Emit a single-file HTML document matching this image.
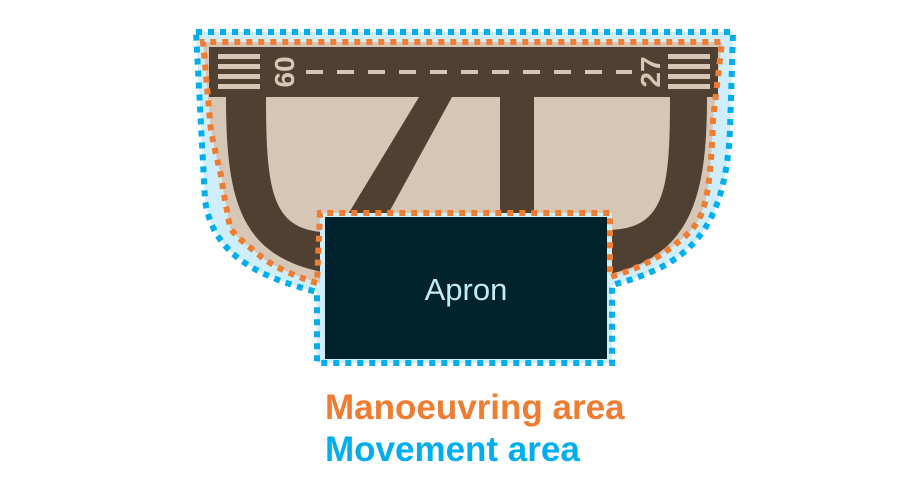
<!DOCTYPE html>
<html><head><meta charset="utf-8"><style>
html,body{margin:0;padding:0;background:#fff;}
svg{display:block;}
</style></head><body>
<svg width="900" height="492" viewBox="0 0 900 492" xmlns="http://www.w3.org/2000/svg">
<path d="M196,32 H733 L730,130 C725,230 690,265 612,285 V363 H317 V292 C250,275 212,250 205,200 Z" fill="#cdeefa"/>
<path d="M203,42 H722 L713,120 C710,200 705,220 683,238 C660,258 640,268 610,277 V290 H320 V283 C290,275 265,262 257,253 C240,240 232,232 230,227 C225,200 222,185 222,180 C215,150 210,130 210,120 Z" fill="#d6c6b6"/>
<rect x="209" y="47" width="509" height="50" fill="#4f4031"/>
<path d="M226,97 C226,200 240,255 322,272 L322,232 C272,228 266,190 266,97 Z" fill="#4f4031"/>
<path d="M707,97 C707,200 690,255 610,274 L610,230 C665,228 670,190 670,97 Z" fill="#4f4031"/>
<polygon points="419,97 452,97 387,216 347,216" fill="#4f4031"/>
<rect x="500" y="97" width="34" height="119" fill="#4f4031"/>
<g fill="#d6c6b6">
<rect x="218" y="54" width="42" height="5"/><rect x="218" y="64" width="42" height="5"/><rect x="218" y="74" width="42" height="5"/><rect x="218" y="84" width="42" height="5"/>
<rect x="668" y="54" width="42" height="5"/><rect x="668" y="64" width="42" height="5"/><rect x="668" y="74" width="42" height="5"/><rect x="668" y="84" width="42" height="5"/>
</g>
<line x1="306" y1="72" x2="632" y2="72" stroke="#d6c6b6" stroke-width="4" stroke-dasharray="17 14"/>
<text transform="translate(275,72) rotate(90)" text-anchor="middle" font-family="Liberation Sans, sans-serif" font-weight="bold" font-size="28" fill="#d6c6b6">09</text>
<text transform="translate(660,72) rotate(-90)" text-anchor="middle" font-family="Liberation Sans, sans-serif" font-weight="bold" font-size="28" fill="#d6c6b6">27</text>
<rect x="320" y="213" width="292" height="150" fill="#cdeefa"/>
<rect x="325" y="217" width="282" height="142" fill="#00222e"/>
<text x="466" y="300" text-anchor="middle" font-family="Liberation Sans, sans-serif" font-size="31" fill="#c5eaf5">Apron</text>
<path d="M317,283 C290,275 265,262 257,253 C240,240 232,232 230,227 C225,200 222,185 222,180 C215,150 210,130 210,120 L203,42 H722 L713,120 C710,200 705,220 683,238 C660,258 640,268 610,277 V213 H320 Z" fill="none" stroke="#ee7d31" stroke-width="6" stroke-dasharray="6 6"/>
<path d="M196,32 H733 L730,130 C725,230 690,265 612,285 V363 H317 V292 C250,275 212,250 205,200 Z" fill="none" stroke="#00aeef" stroke-width="6" stroke-dasharray="6 6"/>
<text x="325" y="419" font-family="Liberation Sans, sans-serif" font-weight="bold" font-size="35" fill="#ee7d31">Manoeuvring area</text>
<text x="325" y="461" font-family="Liberation Sans, sans-serif" font-weight="bold" font-size="35" fill="#00aeef">Movement area</text>
</svg>
</body></html>
